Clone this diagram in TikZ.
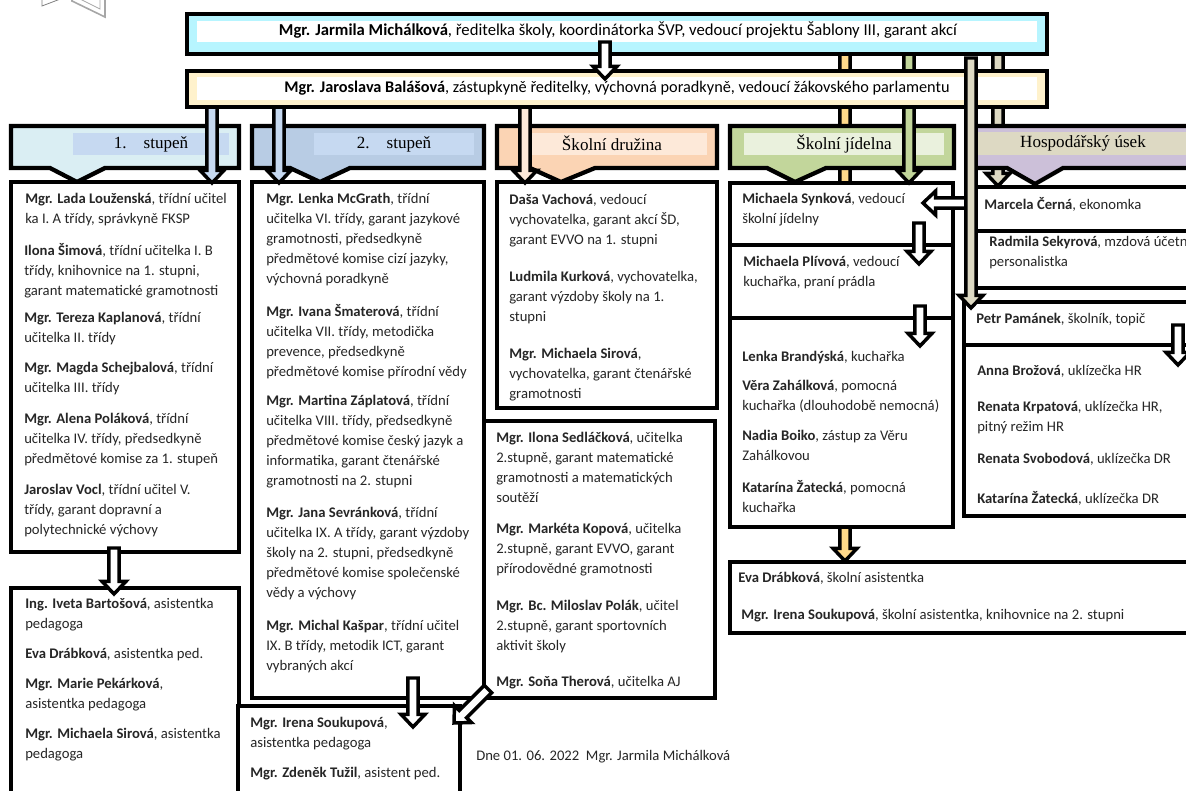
\documentclass[tikz,border=0pt]{standalone}
\usepackage{fontspec}
\setmainfont{Carlito}
\newfontfamily\headfont{Liberation Serif}
\usepackage{xcolor}
\usetikzlibrary{arrows.meta,positioning,calc,fit}

\definecolor{bossfill}{HTML}{B7F5FF}
\definecolor{deputyfill}{HTML}{FFF2CC}
\definecolor{firstfill}{HTML}{DAEEF3}
\definecolor{secondfill}{HTML}{B8CCE4}
\definecolor{barblue}{HTML}{C6D9F1}
\definecolor{clubfill}{HTML}{FBD4B4}
\definecolor{clubbar}{HTML}{FDE9D9}
\definecolor{canteenfill}{HTML}{C2D69B}
\definecolor{canteenbar}{HTML}{EAF1DD}
\definecolor{khaki}{HTML}{DDD9C3}
\definecolor{lilac}{HTML}{CCC0D9}
\definecolor{amber}{HTML}{FFD98A}
\definecolor{inktext}{HTML}{262626}

\begin{document}
\begin{tikzpicture}[
    x=0.75pt, y=-0.75pt,
    font=\fontsize{11}{15}\selectfont,
    text=inktext,
    staffbox/.style={draw=black, line width=3.4pt, inner sep=0pt, fill=white},
    topbar/.style={draw=none, inner sep=0pt, fill=white},
    headbar/.style={draw=none, inner sep=0pt},
    heading/.style={font=\headfont\fontsize{12.8}{14}\selectfont, text=black},
    person/.style={anchor=north west, align=left, inner sep=0pt},
    calloutshape/.style={draw=black, line width=3.2pt, miter limit=10},
    blockarrow/.style={draw=black, line width=2.6pt, miter limit=10,
        to path={
            -- ($(\tikztostart)!3.9pt!90:(\tikztotarget)$)
            -- ($($(\tikztotarget)!9.5pt!(\tikztostart)$)!3.9pt!90:(\tikztotarget)$)
            -- ($($(\tikztotarget)!9.5pt!(\tikztostart)$)!9pt!90:(\tikztotarget)$)
            -- (\tikztotarget)
            -- ($($(\tikztotarget)!9.5pt!(\tikztostart)$)!9pt!-90:(\tikztotarget)$)
            -- ($($(\tikztotarget)!9.5pt!(\tikztostart)$)!3.9pt!-90:(\tikztotarget)$)
            -- ($(\tikztostart)!3.9pt!-90:(\tikztotarget)$)
            -- cycle}}
]
    \clip (0,0) rectangle (1186,791);

    % logo rest at the top edge
    \draw[gray, line width=0.6pt, fill=white] (42,-2) -- (42,6) -- (63,-2);
    \draw[gray!70, line width=1.2pt] (72,-2) -- (72,1) -- (105,17) -- (105,-2);
    \draw[gray!70, line width=0.6pt] (78,-2) -- (100,9) -- (100,-2);

    % arrows behind the boxes
    \coordinate (amber-top) at (845,50);
    \coordinate (amber-tip) at (845,561);
    \coordinate (store-top) at (998,50);
    \coordinate (store-tip) at (998,186);
    \draw[blockarrow, fill=amber] (amber-top) to (amber-tip);
    \draw[blockarrow, fill=khaki] (store-top) to (store-tip);

    % 1. stupen
    \draw[calloutshape, fill=firstfill] (11,126) -- (239,126) -- (239,168) -- (105,168) -- (77,182) -- (50,168) -- (11,168) -- cycle;
    \node[headbar, fill=barblue, fit={(73,133) (229,155)}] (bar1) {};
    \node[heading] at (bar1.center) {1.\quad stupeň};

    % 2. stupen
    \draw[calloutshape, fill=secondfill] (252,126) -- (484,126) -- (484,168) -- (350,168) -- (320,182) -- (290,168) -- (252,168) -- cycle;
    \node[headbar, fill=barblue, fit={(314,133) (474,155)}] (bar2) {};
    \node[heading] at (bar2.center) {2.\quad stupeň};

    % Skolni druzina
    \draw[calloutshape, fill=clubfill] (497,126) -- (717,126) -- (717,168) -- (595,168) -- (561,182) -- (530,168) -- (497,168) -- cycle;
    \node[headbar, fill=clubbar, fit={(532,133) (707,155)}] (bar3) {};
    \node[heading] at (612,143) {Školní družina};

    % Skolni jidelna
    \draw[calloutshape, fill=canteenfill] (730,126) -- (954,126) -- (954,168) -- (826,168) -- (795,182) -- (767,168) -- (730,168) -- cycle;
    \node[headbar, fill=canteenbar, fit={(744,133) (944,155)}] (bar4) {};
    \node[heading] at (bar4.center) {Školní jídelna};

    % Hospodarsky usek
    \draw[calloutshape, fill=lilac] (975,126) -- (1200,126) -- (1200,168) -- (1063,168) -- (1035,184) -- (1007,168) -- (975,168) -- cycle;
    \node[headbar, fill=khaki, fit={(977,132) (1186,155)}] (bar5) {};
    \node[heading] at (1083,143) {Hospodářský úsek};

    % staff boxes
    \node[staffbox, fit={(11,182) (239,552)}] (first) {};
    \node[staffbox, fit={(11,588) (239,810)}] (firstasst) {};
    \node[staffbox, fit={(238,706) (460,810)}] (secondasst) {};
    \node[staffbox, fit={(252,182) (484,698)}] (second) {};
    \node[staffbox, fit={(497,182) (717,408)}] (club) {};
    \node[staffbox, fit={(484,421) (715,698)}] (teachers) {};
    \node[staffbox, fit={(730,183) (953,245)}] (canteen1) {};
    \node[staffbox, fit={(730,245) (953,318)}] (canteen2) {};
    \node[staffbox, fit={(730,318) (953,527)}] (canteen3) {};
    \node[staffbox, fit={(730,562) (1200,633)}] (assist) {};
    \node[staffbox, fit={(976,187) (1200,231)}] (store1) {};
    \node[staffbox, fit={(976,231) (1200,288)}] (store2) {};
    \node[staffbox, fit={(964,302) (1200,345)}] (caretaker) {};
    \node[staffbox, fit={(964,345) (1200,516)}] (cleaners) {};

    % colour arrows over the boxes
    \coordinate (a1-top) at (212,100);
    \coordinate (a1-tip) at (212,183);
    \coordinate (a2-top) at (279,100);
    \coordinate (a2-tip) at (279,183);
    \coordinate (a3-top) at (525,100);
    \coordinate (a3-tip) at (525,183);
    \coordinate (a4-top) at (909,50);
    \coordinate (a4-tip) at (909,183);
    \draw[blockarrow, fill=barblue] (a1-top) to (a1-tip);
    \draw[blockarrow, fill=barblue] (a2-top) to (a2-tip);
    \draw[blockarrow, fill=clubbar] (a3-top) to (a3-tip);
    \draw[blockarrow, fill=canteenfill] (a4-top) to (a4-tip);

    % vedeni
    \node[staffbox, fill=deputyfill, fit={(187,71) (1047,107)}] (deputy) {};
    \node[topbar, fit={(197,77) (1037,100)}] (deputybar) {};
    \node[font=\fontsize{12.2}{14}\selectfont, text=black] at (617,88) {\textbf{Mgr. Jaroslava Balášová}, zástupkyně ředitelky, výchovná poradkyně, vedoucí žákovského parlamentu};
    \node[staffbox, fill=bossfill, fit={(187,14) (1047,54)}] (boss) {};
    \node[topbar, fit={(197,21) (1037,42)}] (bossbar) {};
    \node[font=\fontsize{12.5}{14}\selectfont, text=black] at (618,30) {\textbf{Mgr. Jarmila Michálková}, ředitelka školy, koordinátorka ŠVP, vedoucí projektu Šablony III, garant akcí};

    % white arrows
    \coordinate (w1-top) at (605,42);
    \coordinate (w1-tip) at (605,79);
    \coordinate (w2-top) at (114,548);
    \coordinate (w2-tip) at (114,594);
    \coordinate (w3-top) at (413,678);
    \coordinate (w3-tip) at (413,727);
    \coordinate (w4-top) at (488,689);
    \coordinate (w4-tip) at (454,723);
    \coordinate (w5-top) at (919,223);
    \coordinate (w5-tip) at (919,264);
    \coordinate (w6-top) at (920,306);
    \coordinate (w6-tip) at (920,346);
    \coordinate (w7-top) at (1178,325);
    \coordinate (w7-tip) at (1178,365);
    \coordinate (w8-top) at (966,203);
    \coordinate (w8-tip) at (923,203);
    \foreach \i in {1,...,8}
        \draw[blockarrow, fill=white] (w\i-top) to (w\i-tip);

    % long arrow to the caretaker
    \coordinate (long-top) at (971,58);
    \coordinate (long-tip) at (971,308);
    \draw[blockarrow, fill=khaki] (long-top) to (long-tip);

    % 1. stupen texts
    \node[person] (p1) at (25,193) {\textbf{Mgr. Lada Louženská}, třídní učitel\\ka I. A třídy, správkyně FKSP};
    \node[person] (p2) at (24,243) {\textbf{Ilona Šimová}, třídní učitelka I. B\\třídy, knihovnice na 1. stupni,\\garant matematické gramotnosti};
    \node[person] (p3) at (24,312) {\textbf{Mgr. Tereza Kaplanová}, třídní\\učitelka II. třídy};
    \node[person] (p4) at (24,362) {\textbf{Mgr. Magda Schejbalová}, třídní\\učitelka III. třídy};
    \node[person] (p5) at (24,413) {\textbf{Mgr. Alena Poláková}, třídní\\učitelka IV. třídy, předsedkyně\\předmětové komise za 1. stupeň};
    \node[person] (p6) at (24,484) {\textbf{Jaroslav Vocl}, třídní učitel V.\\třídy, garant dopravní a\\polytechnické výchovy};

    \node[person] (p7) at (25,598) {\textbf{Ing. Iveta Bartošová}, asistentka\\pedagoga};
    \node[person] (p8) at (25,648) {\textbf{Eva Drábková}, asistentka ped.};
    \node[person] (p9) at (25,678) {\textbf{Mgr. Marie Pekárková},\\asistentka pedagoga};
    \node[person] (p10) at (25,728) {\textbf{Mgr. Michaela Sirová}, asistentka\\pedagoga};

    % 2. stupen texts
    \node[person] (p11) at (266,193) {\textbf{Mgr. Lenka McGrath}, třídní\\učitelka VI. třídy, garant jazykové\\gramotnosti, předsedkyně\\předmětové komise cizí jazyky,\\výchovná poradkyně};
    \node[person] (p12) at (266,304) {\textbf{Mgr. Ivana Šmaterová}, třídní\\učitelka VII. třídy, metodička\\prevence, předsedkyně\\předmětové komise přírodní vědy};
    \node[person] (p13) at (266,395) {\textbf{Mgr. Martina Záplatová}, třídní\\učitelka VIII. třídy, předsedkyně\\předmětové komise český jazyk a\\informatika, garant čtenářské\\gramotnosti na 2. stupni};
    \node[person] (p14) at (266,507) {\textbf{Mgr. Jana Sevránková}, třídní\\učitelka IX. A třídy, garant výzdoby\\školy na 2. stupni, předsedkyně\\předmětové komise společenské\\vědy a výchovy};
    \node[person] (p15) at (266,620) {\textbf{Mgr. Michal Kašpar}, třídní učitel\\IX. B třídy, metodik ICT, garant\\vybraných akcí};

    \node[person] (p16) at (250,717) {\textbf{Mgr. Irena Soukupová},\\asistentka pedagoga};
    \node[person] (p17) at (250,767) {\textbf{Mgr. Zdeněk Tužil}, asistent ped.};

    % druzina texts
    \node[person] (p18) at (509,194) {\textbf{Daša Vachová}, vedoucí\\vychovatelka, garant akcí ŠD,\\garant EVVO na 1. stupni};
    \node[person] (p19) at (509,271) {\textbf{Ludmila Kurková}, vychovatelka,\\garant výzdoby školy na 1.\\stupni};
    \node[person] (p20) at (509,348) {\textbf{Mgr. Michaela Sirová},\\vychovatelka, garant čtenářské\\gramotnosti};

    \node[person] (p21) at (496,432) {\textbf{Mgr. Ilona Sedláčková}, učitelka\\2.stupně, garant matematické\\gramotnosti a matematických\\soutěží};
    \node[person] (p22) at (496,523) {\textbf{Mgr. Markéta Kopová}, učitelka\\2.stupně, garant EVVO, garant\\přírodovědné gramotnosti};
    \node[person] (p23) at (496,600) {\textbf{Mgr. Bc. Miloslav Polák}, učitel\\2.stupně, garant sportovních\\aktivit školy};
    \node[person] (p24) at (496,676) {\textbf{Mgr. Soňa Therová}, učitelka AJ};
    \node[person] (dated) at (476,750) {Dne 01. 06. 2022\ \ Mgr. Jarmila Michálková};

    % jidelna texts
    \node[person] (p25) at (742,193) {\textbf{Michaela Synková}, vedoucí\\školní jídelny};
    \node[person] (p26) at (743,256) {\textbf{Michaela Plívová}, vedoucí\\kuchařka, praní prádla};
    \node[person] (p27) at (742,351) {\textbf{Lenka Brandýská}, kuchařka};
    \node[person] (p28) at (742,380) {\textbf{Věra Zahálková}, pomocná\\kuchařka (dlouhodobě nemocná)};
    \node[person] (p29) at (742,430) {\textbf{Nadia Boiko}, zástup za Věru\\Zahálkovou};
    \node[person] (p30) at (742,480) {\textbf{Katarína Žatecká}, pomocná\\kuchařka};

    \node[person] (p31) at (738,572) {\textbf{Eva Drábková}, školní asistentka};
    \node[person] (p32) at (741,609) {\textbf{Mgr. Irena Soukupová}, školní asistentka, knihovnice na 2. stupni};

    % hospodarsky usek texts
    \node[person] (p33) at (984,197) {\textbf{Marcela Černá}, ekonomka};
    \node[person] (p34) at (989,236) {\textbf{Radmila Sekyrová}, mzdová účetní,\\personalistka};
    \node[person] (p35) at (976,313) {\textbf{Petr Pamánek}, školník, topič};
    \node[person] (p36) at (977,365) {\textbf{Anna Brožová}, uklízečka HR};
    \node[person] (p37) at (977,401) {\textbf{Renata Krpatová}, uklízečka HR,\\pitný režim HR};
    \node[person] (p38) at (977,453) {\textbf{Renata Svobodová}, uklízečka DR};
    \node[person] (p39) at (977,491) {\textbf{Katarína Žatecká}, uklízečka DR};
\end{tikzpicture}
\end{document}
